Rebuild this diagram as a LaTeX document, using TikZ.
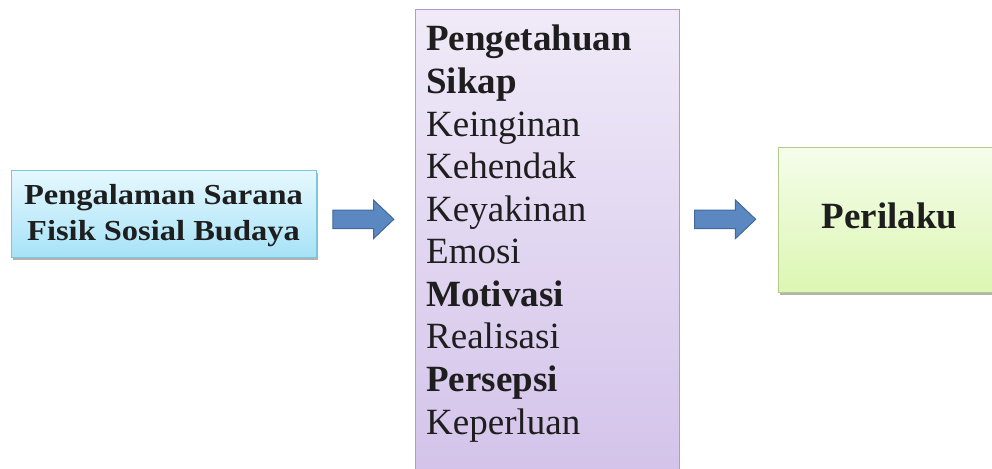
\documentclass[tikz,border=0pt]{standalone}
\usepackage{fontspec}
\setmainfont{Liberation Serif}
\usetikzlibrary{calc}
\definecolor{inkdark}{HTML}{1E1E1E}
\definecolor{cyanTop}{HTML}{E6F8FE}
\definecolor{cyanBot}{HTML}{A6E2F7}
\definecolor{cyanLine}{HTML}{7CC6DA}
\definecolor{lilacTop}{HTML}{F0EAF8}
\definecolor{lilacBot}{HTML}{D3C3EA}
\definecolor{lilacLine}{HTML}{AE9AD0}
\definecolor{limeTop}{HTML}{F5FDEB}
\definecolor{limeBot}{HTML}{DCF6B2}
\definecolor{limeLine}{HTML}{B2CC88}
\definecolor{arrowFill}{HTML}{5C88C2}
\definecolor{arrowLine}{HTML}{41699C}
\newcommand{\widetext}[1]{\scalebox{1.12}[1]{#1}}
\begin{document}
\begin{tikzpicture}[x=1pt,y=-1pt,
  box/.style={rectangle, inner sep=0pt, line width=1pt},
  shadowbox/.style={fill=black!30, inner sep=0pt, rectangle},
  srctext/.style={anchor=base, inner sep=0pt, text=inkdark,
    font=\fontsize{29}{34}\selectfont\bfseries},
  item/.style={anchor=base west, inner sep=0pt, text=inkdark,
    font=\fontsize{37}{42.5}\selectfont},
  itembold/.style={item, font=\fontsize{37}{42.5}\selectfont\bfseries},
  blockarrow/.style={fill=arrowFill, draw=arrowLine, line width=1pt, line join=miter}]
\useasboundingbox (0,0) rectangle (992,468);

% soft drop shadows under the side boxes
\node[shadowbox, minimum width=305pt, minimum height=87pt] (srcshadow) at (165.7,216.2) {};
\node[shadowbox, minimum width=218pt, minimum height=145pt] (outshadow) at (888.5,222.3) {};

% input box
\node[box, draw=cyanLine, top color=cyanTop, bottom color=cyanBot,
  minimum width=305pt, minimum height=87pt] (src) at (164.2,214.2) {};
\node[srctext] (srcA) at (163.5,204) {\widetext{Pengalaman Sarana}};
\node[srctext] (srcB) at (163.5,240.5) {\widetext{Fisik Sosial Budaya}};

% middle list box
\node[box, draw=lilacLine, top color=lilacTop, bottom color=lilacBot,
  minimum width=264pt, minimum height=462pt] (mid) at (547.2,241) {};
\node[itembold] (m1)  at (426,51)    {Pengetahuan};
\node[itembold] (m2)  at (426,93.6)  {Sikap};
\node[item]     (m3)  at (426,136.1) {Keinginan};
\node[item]     (m4)  at (426,178.7) {Kehendak};
\node[item]     (m5)  at (426,221.2) {Keyakinan};
\node[item]     (m6)  at (426,263.8) {Emosi};
\node[itembold] (m7)  at (426,306.3) {Motivasi};
\node[item]     (m8)  at (426,348.9) {Realisasi};
\node[itembold] (m9)  at (426,391.4) {Persepsi};
\node[item]     (m10) at (426,434)   {Keperluan};

% output box
\node[box, draw=limeLine, top color=limeTop, bottom color=limeBot,
  minimum width=218pt, minimum height=145pt] (out) at (887.3,219.8) {};
\node[anchor=base, inner sep=0pt, text=inkdark,
  font=\fontsize{37}{42}\selectfont\bfseries] (outT) at (889.5,228) {Perilaku};

% block arrows between the boxes
\coordinate (arrA) at ($(src.east)+(15.6,5.1)$);
\coordinate (arrB) at ($(mid.west |- src.east)+(280,5.1)$);
\foreach \s in {arrA,arrB}{
  \draw[blockarrow] (\s) ++(0,-9.3) -- ++(40.7,0) -- ++(0,-10) -- ++(20.3,19.3)
    -- ++(-20.3,19.3) -- ++(0,-10) -- ++(-40.7,0) -- cycle;
}
\end{tikzpicture}
\end{document}
